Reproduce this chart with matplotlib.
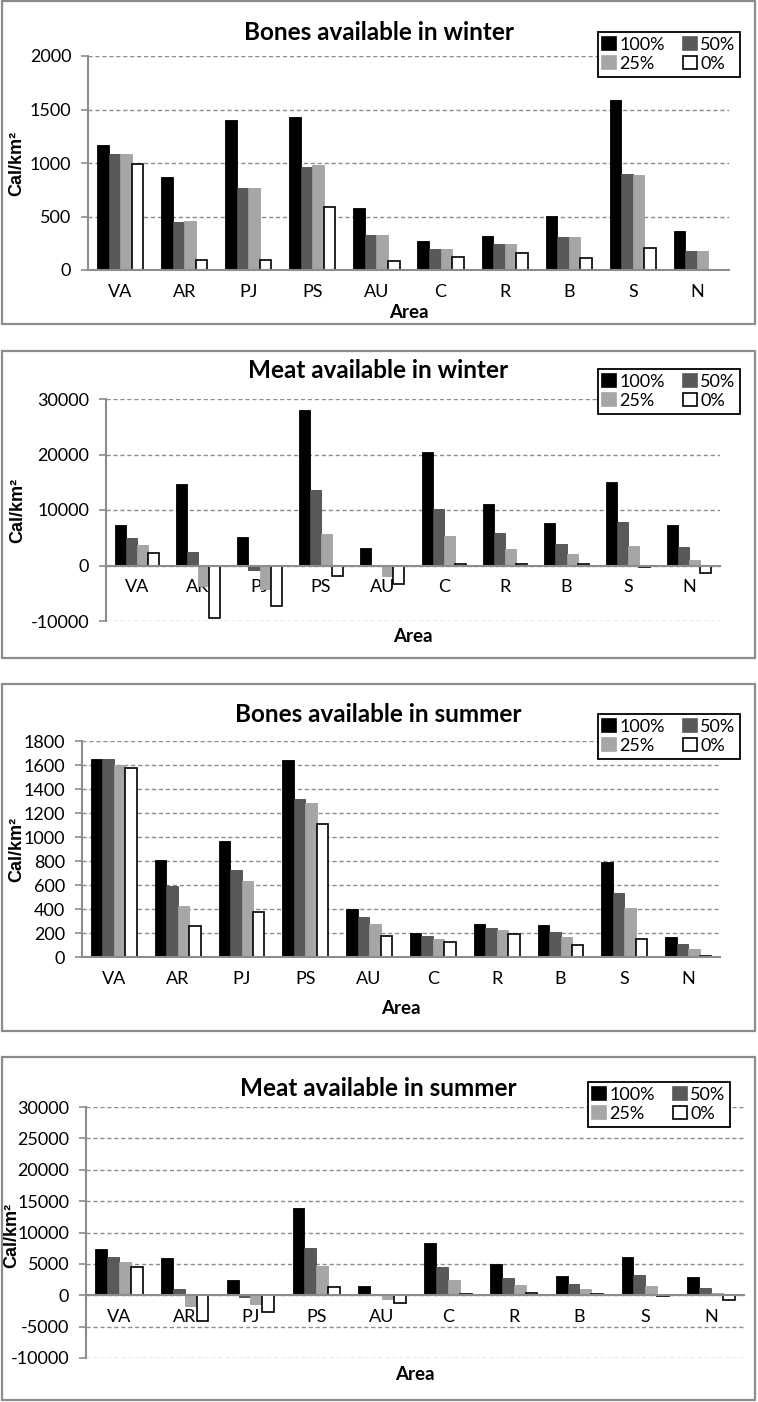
import matplotlib
matplotlib.use("Agg")
import matplotlib.pyplot as plt
from matplotlib.patches import Rectangle, Patch
import numpy as np

areas = ['VA', 'AR', 'PJ', 'PS', 'AU', 'C', 'R', 'B', 'S', 'N']
levels = ['100%', '50%', '25%', '0%']

# bones, winter
bw_100 = [1168, 872, 1402, 1427, 583, 268, 315, 508, 1586, 361]
bw_50 = [1084, 452, 769, 960, 327, 193, 246, 308, 894, 181]
bw_25 = [1084, 458, 769, 981, 327, 193, 240, 312, 888, 181]
bw_0 = [991, 93, 93, 592, 84, 125, 156, 109, 202, -10]

# meat, winter
mw_100 = [7320, 14700, 5220, 28020, 3180, 20400, 11100, 7620, 15060, 7380]
mw_50 = [4980, 2400, -770, 13560, -100, 10260, 5880, 3960, 7800, 3300]
mw_25 = [3660, -3700, -4300, 5760, -1900, 5280, 3060, 2040, 3540, 1020]
mw_0 = [2280, -9460, -7240, -1850, -3360, 240, 360, 240, -300, -1320]

# bones, summer
bs_100 = [1650, 806, 967, 1642, 403, 200, 278, 269, 792, 169]
bs_50 = [1650, 589, 728, 1317, 336, 175, 242, 208, 536, 111]
bs_25 = [1603, 425, 633, 1286, 275, 153, 225, 167, 408, 69]
bs_0 = [1578, 256, 378, 1111, 178, 125, 192, 100, 147, 5]

# meat, summer
ms_100 = [7380, 6000, 2390, 13860, 1490, 8340, 4940, 3080, 6160, 2870]
ms_50 = [6110, 1060, -210, 7590, 210, 4460, 2810, 1750, 3240, 1220]
ms_25 = [5260, -1700, -1430, 4620, -640, 2390, 1590, 960, 1540, 370]
ms_0 = [4510, -4090, -2650, 1330, -1270, 270, 420, 210, -160, -740]

W, H = 758, 1402
fig = plt.figure(figsize=(W / 100, H / 100), dpi=100)
plt.rcParams['font.family'] = ['Lato', 'DejaVu Sans']
plt.rcParams['axes.unicode_minus'] = False

colors = ['#000000', '#595959', '#a6a6a6', '#ffffff']
edges = ['#000000', '#4a4a4a', '#a0a0a0', '#000000']
grey = '#8c8c8c'


def fx(px):
    return px / W


def fy(py):
    return 1 - py / H


def panel(series, title, ylim, step, box, plot, title_y, legend_box, area_y, ylab_x, ylab_y):
    # frame round the panel
    x0, y0, x1, y1 = box
    fig.patches.append(Rectangle((fx(x0), fy(y1)), fx(x1 - x0), (y1 - y0) / H,
                                 transform=fig.transFigure, fill=False,
                                 edgecolor=grey, lw=1.6))
    l, t, r, b = plot
    ax = fig.add_axes([fx(l), fy(b), (r - l) / W, (b - t) / H])
    x = np.arange(len(areas))
    w = 0.18
    for i, vals in enumerate(series):
        ax.bar(x + (i - 1.5) * w, vals, w, color=colors[i], edgecolor=edges[i],
               lw=1.2 if i == 3 else 0.6, zorder=3)
    ax.set_xlim(-0.5, len(areas) - 0.5)
    ax.set_ylim(*ylim)
    ax.set_yticks(np.arange(ylim[0], ylim[1] + 1, step))
    ax.yaxis.grid(True, color=grey, linestyle=(0, (3, 2)), lw=1)
    ax.set_axisbelow(True)
    for s in ['top', 'right']:
        ax.spines[s].set_visible(False)
    ax.spines['left'].set_color(grey)
    ax.spines['left'].set_linewidth(1.5)
    ax.spines['bottom'].set_color(grey)
    ax.spines['bottom'].set_linewidth(1.5)
    ax.spines['bottom'].set_position(('data', 0))
    ax.spines['bottom'].set_zorder(4)
    ax.set_xticks(x, labels=areas)
    ax.tick_params(axis='x', length=0, pad=10, labelsize=13)
    ax.tick_params(axis='y', length=5, color=grey, width=1.2, pad=7, labelsize=13)
    ax.patch.set_visible(False)

    fig.text(fx((x0 + x1) / 2), fy(title_y), title, ha='center', va='center',
             fontsize=17.5, fontweight='bold')
    fig.text(fx((l + r) / 2), fy(area_y), 'Area', ha='center', va='center',
             fontsize=13.5, fontweight='bold')
    fig.text(fx(ylab_x), fy(ylab_y), 'Cal/km²', ha='center', va='center', rotation=90,
             fontsize=13, fontweight='bold', family=['Liberation Sans', 'DejaVu Sans'])

    order = [0, 2, 1, 3]
    handles = [Patch(facecolor=colors[i], edgecolor=edges[i] if i == 3 else colors[i],
                     lw=1.2) for i in order]
    lx1, ly0 = legend_box
    leg = fig.legend(handles, [levels[i] for i in order], ncol=2,
                     loc='upper right', bbox_to_anchor=(fx(lx1), fy(ly0)),
                     bbox_transform=fig.transFigure, fontsize=13, frameon=True,
                     fancybox=False, edgecolor='#000000', framealpha=1,
                     handlelength=0.75, handleheight=0.75, handletextpad=0.2,
                     columnspacing=1.0, labelspacing=0.2, borderpad=0.25,
                     borderaxespad=0)
    leg.get_frame().set_linewidth(1.3)
    return ax


panel([bw_100, bw_50, bw_25, bw_0], 'Bones available in winter', (0, 2000), 500,
      (2, 1, 755, 324), (88, 56, 729, 270), 32, (740, 32), 312, 17, 163)
panel([mw_100, mw_50, mw_25, mw_0], 'Meat available in winter', (-10000, 30000), 10000,
      (2, 351, 755, 658), (106, 399, 720, 621), 370, (740, 369), 636, 18, 510)
panel([bs_100, bs_50, bs_25, bs_0], 'Bones available in summer', (0, 1800), 200,
      (2, 684, 755, 1031), (82, 741, 720, 957), 714, (740, 714), 1008, 17, 849)
panel([ms_100, ms_50, ms_25, ms_0], 'Meat available in summer', (-10000, 30000), 5000,
      (2, 1057, 755, 1400), (86, 1107, 744, 1358), 1088, (730, 1082), 1375, 12, 1235)

fig.savefig('out.png', dpi=100)
